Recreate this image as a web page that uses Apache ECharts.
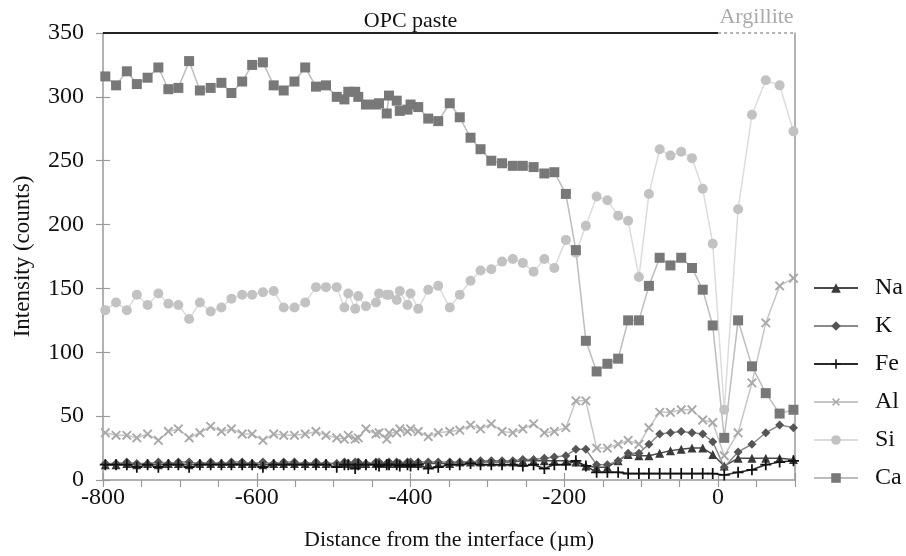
<!DOCTYPE html>
<html>
<head>
<meta charset="utf-8">
<script src="https://cdn.jsdelivr.net/npm/echarts@6/dist/echarts.min.js"></script>
<style>
html,body{margin:0;padding:0;background:#fff;}
#chart{width:906px;height:556px;}
</style>
</head>
<body>
<div id="chart"></div>
<script>
// Distance from the interface (µm)
const xs = [-797,-783,-769,-756,-742,-728,-715,-702,-688,-674,-660,-646,-633,-619,-606,-592,-578,-565,-551,-537,-523,-510,-496,
  -486,-481,-472,-468,-458,-445,-441,-431,-428,-418,-414,-404,-400,-390,-377,-364,-349,-336,-322,-309,-295,-281,-267,-254,-240,-226,-213,
  -198,-185,-172,-158,-144,-130,-117,-103,-90,-76,-62,-48,-34,-20,-7,8,26,44,62,80,98];

const na = [12,12,13,12,13,12,13,13,12,13,13,13,13,13,13,12,13,13,13,13,13,13,13,
  13,13,13,13,13,13,13,13,13,13,13,13,13,13,13,13,13,14,14,14,14,14,14,15,15,15,15,
  15,14,11,10,10,15,20,19,19,21,23,24,25,25,20,11,17,17,17,17,16];

const k = [13,13,14,13,13,14,13,14,14,13,14,13,14,14,13,14,13,14,14,13,14,13,13,
  14,13,14,14,13,14,14,13,14,14,13,14,14,14,14,14,14,14,14,15,15,15,15,16,16,17,18,
  19,24,24,12,12,15,21,21,28,36,37,38,37,36,30,10,22,28,37,43,41];

const fe = [12,12,12,10,12,10,12,12,10,12,12,12,12,12,12,10,12,12,12,12,12,12,10,
  12,12,9,12,12,12,11,12,12,12,11,12,11,12,9,10,12,12,13,12,12,12,12,11,12,9,12,
  12,15,11,6,6,6,5,5,5,5,5,5,5,5,5,4,6,8,12,14,15];

const al = [37,35,35,33,36,31,38,40,33,37,42,38,40,36,36,31,36,35,35,36,38,35,33,
  32,35,32,33,40,36,37,32,37,37,40,38,40,38,34,37,38,39,43,40,44,38,37,40,44,37,38,
  41,62,62,25,25,28,31,28,41,53,53,55,55,47,45,19,37,76,123,152,158];

const si = [133,139,133,145,137,146,138,137,126,139,132,135,142,145,145,147,148,135,135,139,151,151,151,
  135,146,134,144,136,139,146,145,145,141,148,137,146,134,149,152,135,145,156,164,165,171,173,170,163,173,166,
  188,178,199,222,219,207,203,159,224,259,254,257,252,228,185,55,212,286,313,309,273];

const ca = [316,309,320,310,315,323,306,307,328,305,307,311,303,312,325,327,309,305,312,323,308,309,300,
  298,304,304,300,294,294,295,287,301,297,289,290,294,292,283,281,295,284,268,259,250,248,246,246,245,240,241,
  224,180,109,85,91,95,125,125,152,174,168,174,166,149,121,33,125,89,68,52,55];

const seriesNames = ['Na','K','Fe','Al','Si','Ca'];
const yTicks = [0,50,100,150,200,250,300,350];
const xLabels = [-800,-600,-400,-200,0];
const zoneNames = ['OPC paste','Argillite'];

const FONT = 'Liberation Serif';
const PLUS = 'path://M4.2,0H5.8V4.2H10V5.8H5.8V10H4.2V5.8H0V4.2H4.2Z';

function pts(arr){ return xs.map((x,i)=>[x, arr[i]]); }

const chart = echarts.init(document.getElementById('chart'), null, {renderer:'canvas'});

const base = (name, vals, symbol, size, mColor, lColor, extra) => Object.assign({
  name, type:'line', data: pts(vals), symbol, symbolSize: size,
  itemStyle:{color:mColor}, lineStyle:{color:lColor, width:1.5},
  showAllSymbol:true, animation:false, xAxisIndex:0, yAxisIndex:0, z:2
}, extra||{});

const option = {
  backgroundColor:'#fff',
  animation:false,
  grid:{left:103, right:111, top:33, bottom:75, containLabel:false},
  legend:{
    orient:'vertical', left:808, top:271,
    itemWidth:44, itemHeight:12, itemGap:14,
    data: seriesNames,
    textStyle:{fontFamily:FONT, fontSize:24, lineHeight:24, color:'#111', padding:[0,0,0,12]}
  },
  xAxis:[
    {type:'value', min:-800, max:100, interval:50, position:'bottom',
     axisLine:{show:true, onZero:false, lineStyle:{color:'#999', width:1.5}},
     axisTick:{show:true, length:7, lineStyle:{color:'#999', width:1.2}},
     axisLabel:{fontFamily:FONT, fontSize:24, color:'#111', margin:6,
       formatter: v => xLabels.indexOf(v) >= 0 ? String(v) : ''},
     splitLine:{show:false},
     name:'Distance from the interface (µm)', nameLocation:'middle', nameGap:49,
     nameTextStyle:{fontFamily:FONT, fontSize:22, color:'#111'}},
    {type:'value', min:-800, max:100, interval:200, position:'bottom',
     axisLine:{show:false, onZero:false}, axisTick:{show:true, inside:true, length:7, lineStyle:{color:'#999', width:1.2}},
     axisLabel:{show:false}, splitLine:{show:false}}
  ],
  yAxis:[
    {type:'value', min:0, max:350, interval:50, position:'left',
     axisLine:{show:true, onZero:false, lineStyle:{color:'#999', width:1.5}},
     axisTick:{show:true, length:7, lineStyle:{color:'#999', width:1.2}},
     axisLabel:{fontFamily:FONT, fontSize:24, color:'#111', margin:19,
       formatter: v => yTicks.indexOf(v) >= 0 ? String(v) : ''},
     splitLine:{show:false},
     name:'Intensity (counts)', nameLocation:'middle', nameGap:69,
     nameTextStyle:{fontFamily:FONT, fontSize:23, color:'#111'}},
    {type:'value', min:0, max:350, interval:50, position:'left',
     axisLine:{show:false, onZero:false}, axisTick:{show:true, inside:true, length:7, lineStyle:{color:'#999', width:1.2}},
     axisLabel:{show:false}, splitLine:{show:false}},
    {type:'value', min:0, max:350, interval:50, position:'right',
     axisLine:{show:true, onZero:false, lineStyle:{color:'#999', width:1.5}},
     axisTick:{show:false}, axisLabel:{show:false}, splitLine:{show:false}}
  ],
  series:[
    base('Na', na, 'triangle', 9, '#3a3a3a', '#4a4a4a'),
    base('K', k, 'diamond', 9, '#555', '#8a8a8a'),
    base('Fe', fe, PLUS, 11, '#111', '#2a2a2a'),
    base('Al', al, PLUS, 12, '#a9a9a9', '#c6c6c6', {symbolRotate:45}),
    base('Si', si, 'circle', 10, '#c2c2c2', '#dcdcdc'),
    base('Ca', ca, 'rect', 10, '#787878', '#bdbdbd', {
      clip:false,
      markLine:{
        silent:true, symbol:'none', animation:false,
        data:[
          [{coord:[-800,350], lineStyle:{color:'#222', width:2, type:'solid'},
            label:{show:true, position:'insideMiddleTop', formatter:zoneNames[0], distance:1,
                   fontFamily:FONT, fontSize:22, color:'#111'}},
           {coord:[0,350]}],
          [{coord:[0,350], lineStyle:{color:'#999', width:1.5, type:[3,3]},
            label:{show:true, position:'insideMiddleTop', formatter:zoneNames[1], distance:5,
                   fontFamily:FONT, fontSize:22, color:'#aaa'}},
           {coord:[100,350]}]
        ]
      }
    })
  ]
};
chart.setOption(option);
</script>
</body>
</html>
